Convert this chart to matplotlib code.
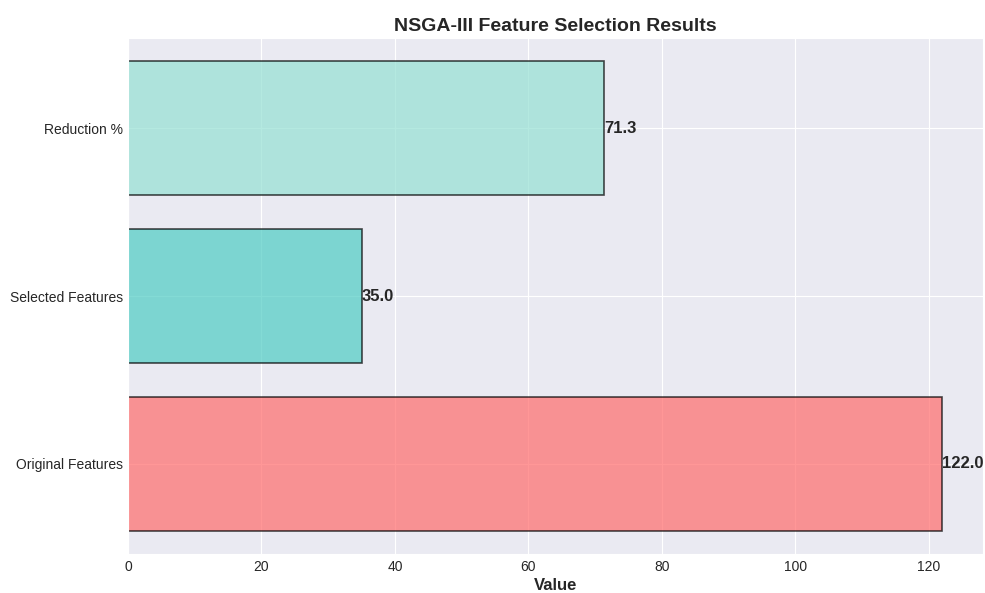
import matplotlib
matplotlib.use("Agg")
import matplotlib.pyplot as plt
import seaborn as sns

categories = ["Original Features", "Selected Features", "Reduction %"]
values = [122.0, 35.0, 71.3]
colors = ["#FF6B6B", "#4ECDC4", "#95E1D3"]

sns.set_style("darkgrid")
plt.rcParams["font.family"] = ["Liberation Sans", "DejaVu Sans"]

fig = plt.figure(figsize=(9.85, 5.93), dpi=100)
ax = fig.add_axes([128/985, 1-554/593, (983-128)/985, (554-38)/593])

bars = ax.barh(categories, values, color=colors, alpha=0.7, edgecolor="black", linewidth=1.2, height=0.8)
for b, v in zip(bars, values):
    ax.text(b.get_width(), b.get_y() + b.get_height()/2, f"{v:.1f}", ha="left", va="center",
            fontsize=12, fontweight="bold", color="#262626")

ax.set_xlim(0, max(values) * 1.05)
ax.set_xlabel("Value", fontsize=12, fontweight="bold", labelpad=3)
ax.set_title("NSGA-III Feature Selection Results", fontsize=14, fontweight="bold", pad=5)
ax.tick_params(labelsize=10, length=0)
ax.tick_params(axis="y", pad=3.5)
ax.tick_params(axis="x", pad=4)

fig.savefig("out.png", dpi=100)
